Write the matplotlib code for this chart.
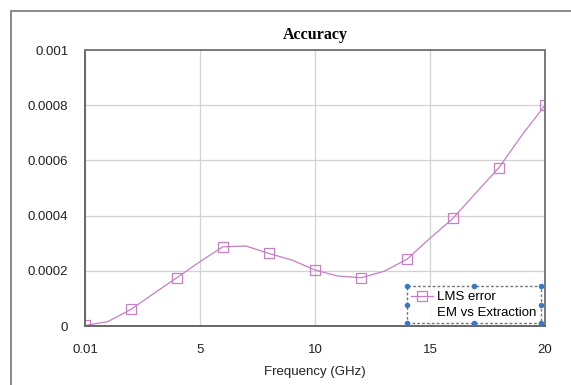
import matplotlib
matplotlib.use("Agg")
import matplotlib.pyplot as plt
from matplotlib.patches import Rectangle

# frequency sweep (GHz) and LMS error, EM vs extraction
freq = [0.01, 1, 2, 3, 4, 5, 6, 7, 8, 9, 10, 11, 12, 13, 14, 15, 16, 17, 18, 19, 20]
lms_err = [0.000002, 0.000016, 0.00006, 0.000118, 0.000175, 0.000233, 0.000287,
           0.00029, 0.000263, 0.000239, 0.000203, 0.000181, 0.000175, 0.000198,
           0.000242, 0.000318, 0.00039, 0.000483, 0.000574, 0.000692, 0.0008]

xticks = [0.01, 5, 10, 15, 20]
xlabels = ["0.01", "5", "10", "15", "20"]
yticks = [0, 0.0002, 0.0004, 0.0006, 0.0008, 0.001]
ylabels = ["0", "0.0002", "0.0004", "0.0006", "0.0008", "0.001"]

plt.rcParams['font.family'] = ['Liberation Sans', 'DejaVu Sans']

fig = plt.figure(figsize=(5.71, 3.85), dpi=100)
ax = fig.add_axes([0.1489, 0.1532, 0.8056, 0.7169])

col = '#c77fc4'
line, = ax.plot(freq, lms_err, color=col, lw=0.9, marker='s', markevery=2,
                markersize=6.5, markerfacecolor='none', markeredgecolor=col,
                markeredgewidth=0.9)

ax.set_xlim(0.01, 20)
ax.set_ylim(0, 0.001)
ax.set_xticks(xticks)
ax.set_xticklabels(xlabels)
ax.set_yticks(yticks)
ax.set_yticklabels(ylabels)
ax.tick_params(length=0, labelsize=9.5, colors='#222222')
ax.tick_params(axis='x', pad=13)
ax.tick_params(axis='y', pad=12)
ax.grid(True, color='#d2d2d2', lw=0.9)
ax.set_axisbelow(True)
for s in ax.spines.values():
    s.set_color('#7a7a7a')
    s.set_linewidth(1.4)
ax.spines['left'].set_color('#666666')
ax.spines['bottom'].set_color('#666666')

ax.set_xlabel('Frequency (GHz)', fontsize=9.5, color='#222222', labelpad=7)
ax.set_title('Accuracy', fontsize=11.5, fontweight='bold',
             family=['Liberation Serif', 'DejaVu Serif'], pad=8)

blank = plt.Line2D([], [], color='none')
leg = ax.legend([line, blank], ["LMS error", "EM vs Extraction"],
                loc='lower right', fontsize=9.5, frameon=True, fancybox=False,
                borderaxespad=0.2, handlelength=1.6, handletextpad=0.3,
                borderpad=0.35, labelspacing=0.25, bbox_to_anchor=(0.996, 0.0))
fr = leg.get_frame()
fr.set_edgecolor('#555555')
fr.set_linestyle((0, (2, 1.5)))
fr.set_linewidth(1.0)

# outer chart border (Excel chart area)
fig.patches.append(Rectangle((11 / 571, -0.2), 1.2, 1.2 - 11 / 385,
                             transform=fig.transFigure, fill=False,
                             edgecolor='#808080', lw=1.3))

# selection handles around the legend
fig.canvas.draw()
bb = leg.get_window_extent().transformed(fig.transFigure.inverted())
hx = [bb.x0, (bb.x0 + bb.x1) / 2, bb.x1]
hy = [bb.y0, (bb.y0 + bb.y1) / 2, bb.y1]
for i, x in enumerate(hx):
    for j, y in enumerate(hy):
        if i == 1 and j == 1:
            continue
        fig.lines.append(plt.Line2D([x], [y], transform=fig.transFigure,
                                    marker='o', ms=3, color='#3a78c8',
                                    lw=0))

fig.savefig('out.png', dpi=100)
